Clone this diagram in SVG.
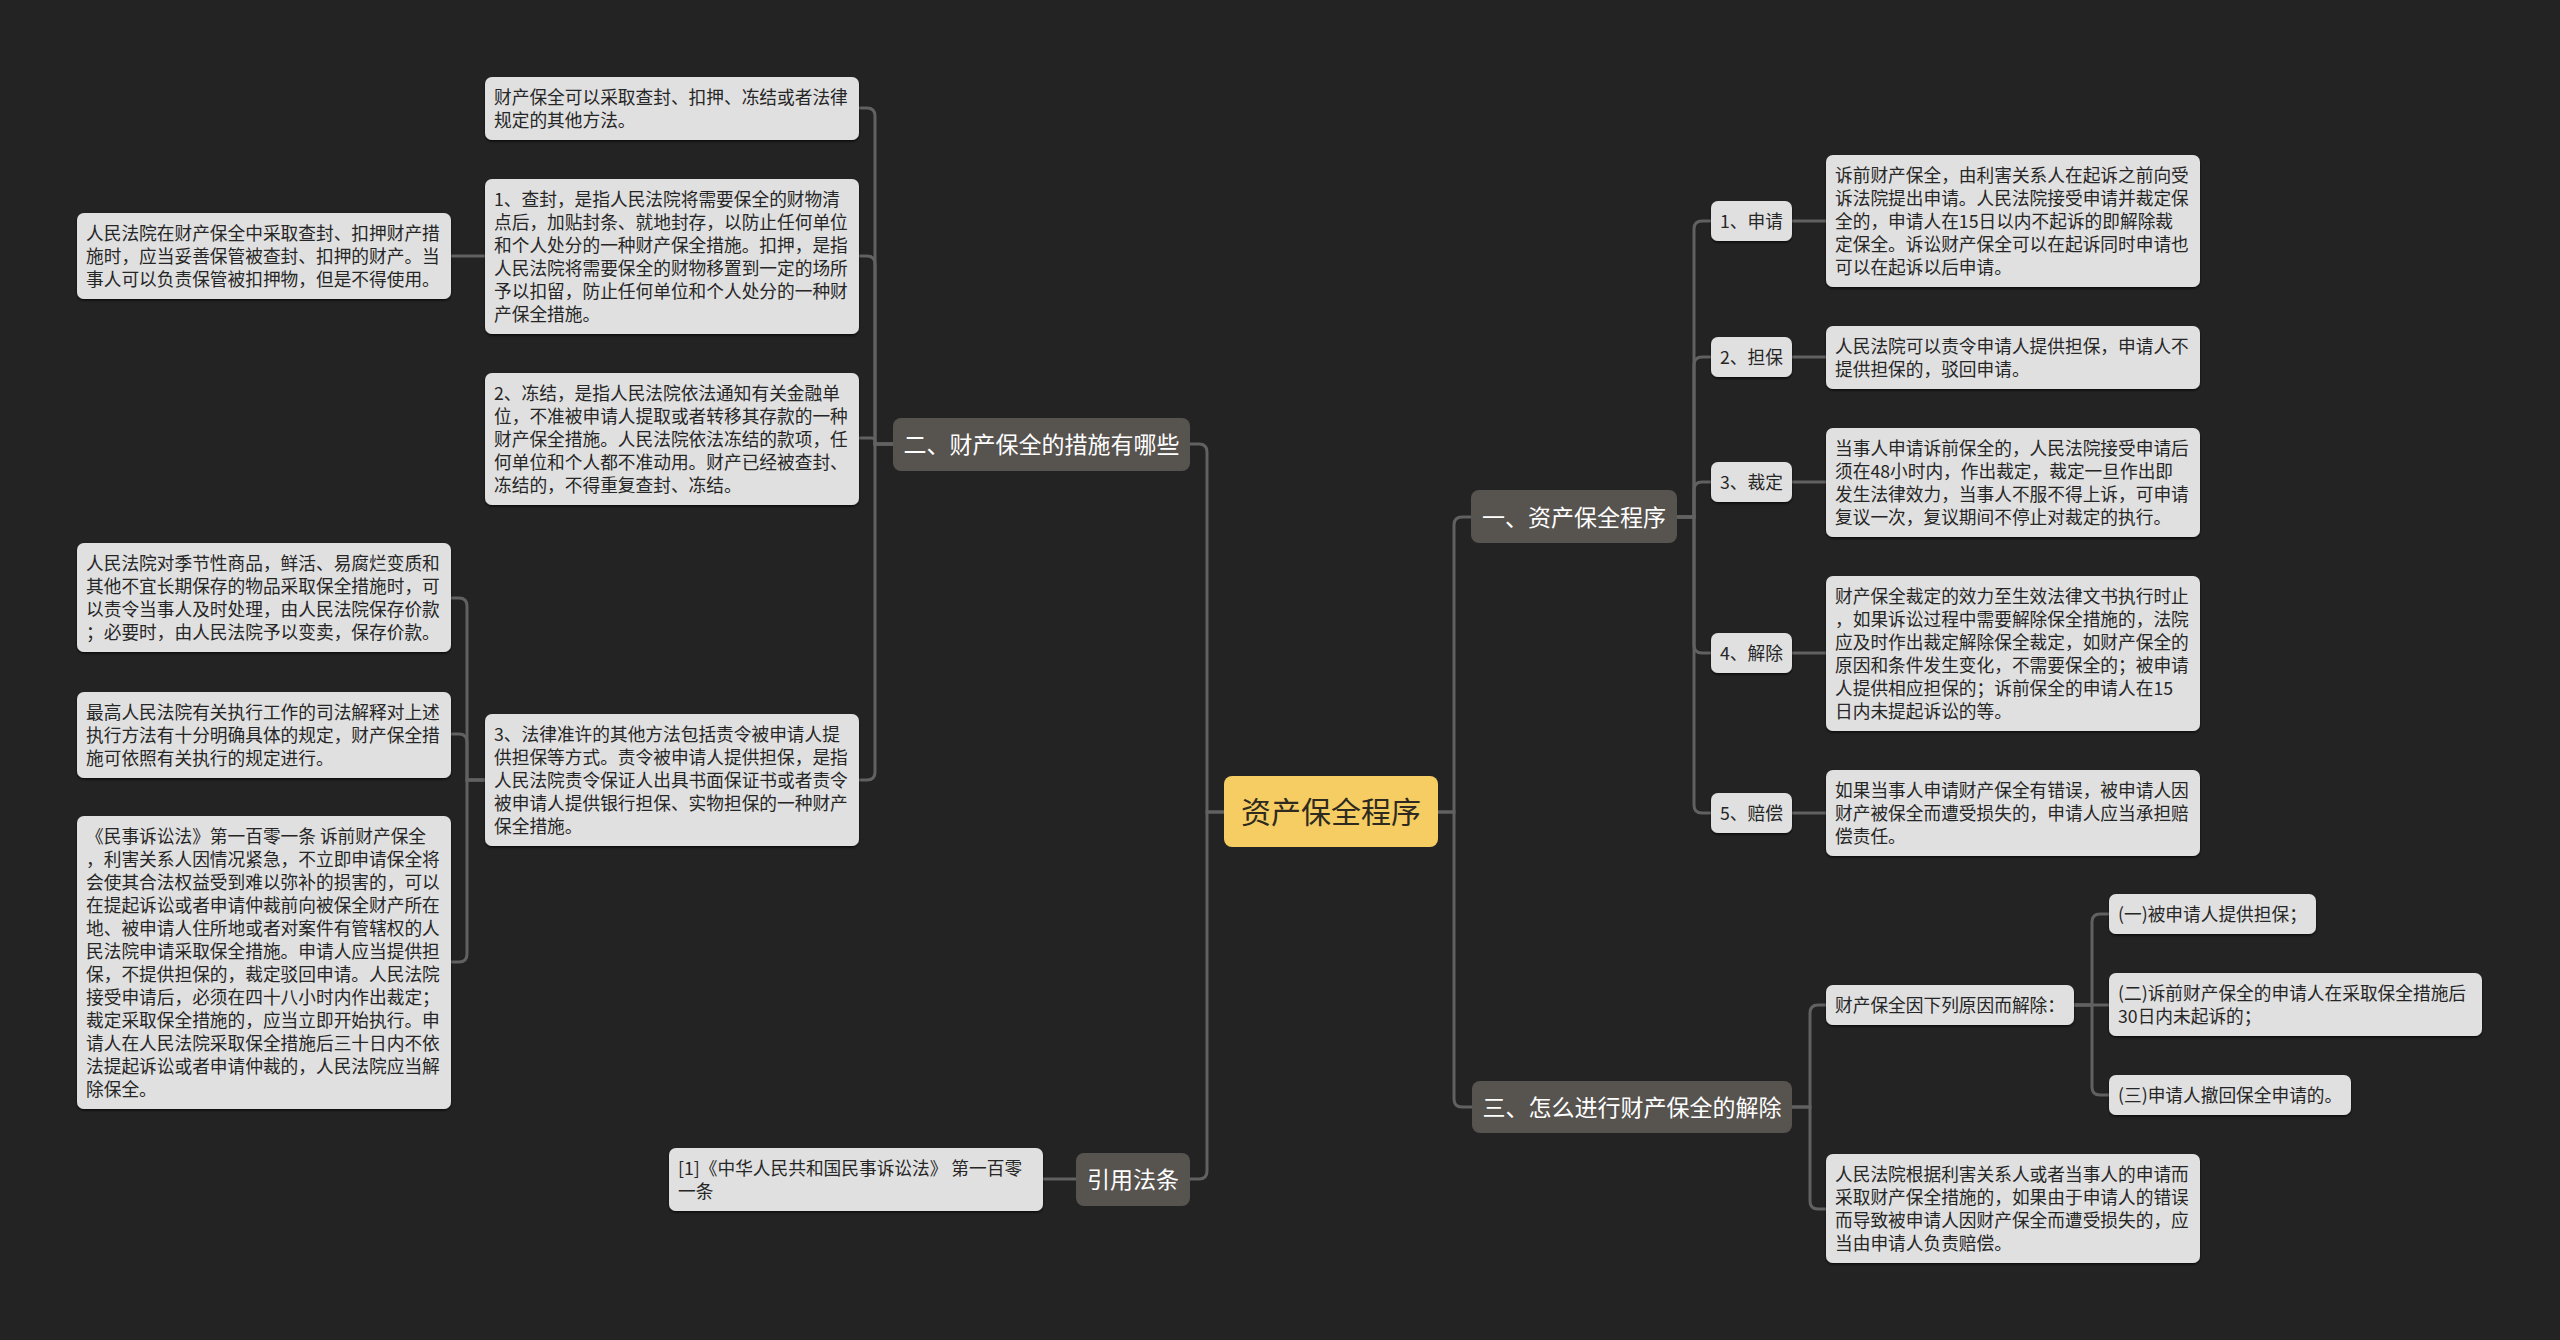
<svg xmlns="http://www.w3.org/2000/svg" width="2560" height="1340" viewBox="0 0 2560 1340">
<defs>
<style>
.bg{fill:#232323}
.c{fill:none;stroke:#616161;stroke-width:3}
.leaf{fill:#e0e0e0;filter:url(#sh)}
.br{fill:#57534f}
.root{fill:#f5cd62}
.t{font-family:"Noto Sans CJK SC","Liberation Sans",sans-serif;font-size:17.7px;fill:#262626}
.tb{font-family:"Noto Sans CJK SC","Liberation Sans",sans-serif;font-size:23px;fill:#ffffff;text-anchor:middle}
.tr{font-family:"Noto Sans CJK SC","Liberation Sans",sans-serif;font-size:30px;fill:#2e2a20;text-anchor:middle}
.m{text-anchor:middle}
</style>
<filter id="sh" x="-5%" y="-10%" width="110%" height="130%">
<feDropShadow dx="0" dy="1.5" stdDeviation="1" flood-color="#000" flood-opacity="0.7"/>
</filter>
</defs>
<rect class="bg" x="0" y="0" width="2560" height="1340"/>
<g id="connectors">
<path class="c" d="M1224 812H1207V452Q1207 444 1199 444H1190"/>
<path class="c" d="M1224 812H1207V1171Q1207 1179 1199 1179H1190"/>
<path class="c" d="M1438 812H1454V525Q1454 517 1462 517H1471"/>
<path class="c" d="M1438 812H1454V1099Q1454 1107 1462 1107H1472"/>
<path class="c" d="M1677 517H1694V229Q1694 221 1702 221H1711"/>
<path class="c" d="M1677 517H1694V365Q1694 357 1702 357H1711"/>
<path class="c" d="M1677 517H1694V490Q1694 482 1702 482H1711"/>
<path class="c" d="M1677 517H1694V645Q1694 653 1702 653H1711"/>
<path class="c" d="M1677 517H1694V805Q1694 813 1702 813H1711"/>
<path class="c" d="M1792 221H1826"/>
<path class="c" d="M1792 357H1826"/>
<path class="c" d="M1792 482H1826"/>
<path class="c" d="M1792 653H1826"/>
<path class="c" d="M1792 813H1826"/>
<path class="c" d="M1792 1107H1810V1013Q1810 1005 1818 1005H1826"/>
<path class="c" d="M1792 1107H1810V1201Q1810 1209 1818 1209H1826"/>
<path class="c" d="M2074 1005H2092V922Q2092 914 2100 914H2109"/>
<path class="c" d="M2074 1005H2109"/>
<path class="c" d="M2074 1005H2092V1087Q2092 1095 2100 1095H2109"/>
<path class="c" d="M893 444H875V116Q875 108 867 108H859"/>
<path class="c" d="M893 444H875V264Q875 256 867 256H859"/>
<path class="c" d="M893 444H875V441Q875 438 872 438H859"/>
<path class="c" d="M893 444H875V772Q875 780 867 780H859"/>
<path class="c" d="M485 780H467V606Q467 598 459 598H451"/>
<path class="c" d="M485 780H467V742Q467 734 459 734H451"/>
<path class="c" d="M485 780H467V954Q467 962 459 962H451"/>
<path class="c" d="M485 256H451"/>
<path class="c" d="M1076 1179H1043"/>
</g>
<g id="root">
<rect class="root" x="1224" y="776" width="214" height="71" rx="8"/>
<text class="tr" x="1331" y="823">资产保全程序</text>
</g>
<g id="b2">
<rect class="br" x="893" y="418" width="297" height="53" rx="8"/>
<text class="tb" x="1041.5" y="452.5">二、财产保全的措施有哪些</text>
</g>
<g id="b1">
<rect class="br" x="1471" y="490" width="206" height="53" rx="8"/>
<text class="tb" x="1574" y="525.5">一、资产保全程序</text>
</g>
<g id="b3">
<rect class="br" x="1472" y="1081" width="320" height="52" rx="8"/>
<text class="tb" x="1632" y="1115.5">三、怎么进行财产保全的解除</text>
</g>
<g id="b4">
<rect class="br" x="1076" y="1153" width="114" height="53" rx="8"/>
<text class="tb" x="1133" y="1187.5">引用法条</text>
</g>
<g id="cite">
<rect class="leaf" x="669" y="1148" width="374" height="63" rx="7"/>
<text class="t" x="678"><tspan x="678" y="1175">[1]《中华人民共和国民事诉讼法》 第一百零</tspan><tspan x="678" y="1198">一条</tspan></text>
</g>
<g id="a">
<rect class="leaf" x="485" y="77" width="374" height="63" rx="7"/>
<text class="t"><tspan x="494" y="104">财产保全可以采取查封、扣押、冻结或者法律</tspan><tspan x="494" y="127">规定的其他方法。</tspan></text>
</g>
<g id="b">
<rect class="leaf" x="485" y="179" width="374" height="155" rx="7"/>
<text class="t"><tspan x="494" y="206">1、查封，是指人民法院将需要保全的财物清</tspan><tspan x="494" y="229">点后，加贴封条、就地封存，以防止任何单位</tspan><tspan x="494" y="252">和个人处分的一种财产保全措施。扣押，是指</tspan><tspan x="494" y="275">人民法院将需要保全的财物移置到一定的场所</tspan><tspan x="494" y="298">予以扣留，防止任何单位和个人处分的一种财</tspan><tspan x="494" y="321">产保全措施。</tspan></text>
</g>
<g id="cnode">
<rect class="leaf" x="485" y="373" width="374" height="132" rx="7"/>
<text class="t"><tspan x="494" y="400">2、冻结，是指人民法院依法通知有关金融单</tspan><tspan x="494" y="423">位，不准被申请人提取或者转移其存款的一种</tspan><tspan x="494" y="446">财产保全措施。人民法院依法冻结的款项，任</tspan><tspan x="494" y="469">何单位和个人都不准动用。财产已经被查封、</tspan><tspan x="494" y="492">冻结的，不得重复查封、冻结。</tspan></text>
</g>
<g id="d">
<rect class="leaf" x="485" y="714" width="374" height="132" rx="7"/>
<text class="t"><tspan x="494" y="741">3、法律准许的其他方法包括责令被申请人提</tspan><tspan x="494" y="764">供担保等方式。责令被申请人提供担保，是指</tspan><tspan x="494" y="787">人民法院责令保证人出具书面保证书或者责令</tspan><tspan x="494" y="810">被申请人提供银行担保、实物担保的一种财产</tspan><tspan x="494" y="833">保全措施。</tspan></text>
</g>
<g id="l1">
<rect class="leaf" x="77" y="213" width="374" height="86" rx="7"/>
<text class="t"><tspan x="86" y="240">人民法院在财产保全中采取查封、扣押财产措</tspan><tspan x="86" y="263">施时，应当妥善保管被查封、扣押的财产。当</tspan><tspan x="86" y="286">事人可以负责保管被扣押物，但是不得使用。</tspan></text>
</g>
<g id="l2">
<rect class="leaf" x="77" y="543" width="374" height="109" rx="7"/>
<text class="t"><tspan x="86" y="570">人民法院对季节性商品，鲜活、易腐烂变质和</tspan><tspan x="86" y="593">其他不宜长期保存的物品采取保全措施时，可</tspan><tspan x="86" y="616">以责令当事人及时处理，由人民法院保存价款</tspan><tspan x="86" y="639">；必要时，由人民法院予以变卖，保存价款。</tspan></text>
</g>
<g id="l3">
<rect class="leaf" x="77" y="692" width="374" height="86" rx="7"/>
<text class="t"><tspan x="86" y="719">最高人民法院有关执行工作的司法解释对上述</tspan><tspan x="86" y="742">执行方法有十分明确具体的规定，财产保全措</tspan><tspan x="86" y="765">施可依照有关执行的规定进行。</tspan></text>
</g>
<g id="l4">
<rect class="leaf" x="77" y="816" width="374" height="293" rx="7"/>
<text class="t"><tspan x="86" y="843">《民事诉讼法》第一百零一条 诉前财产保全</tspan><tspan x="86" y="866">，利害关系人因情况紧急，不立即申请保全将</tspan><tspan x="86" y="889">会使其合法权益受到难以弥补的损害的，可以</tspan><tspan x="86" y="912">在提起诉讼或者申请仲裁前向被保全财产所在</tspan><tspan x="86" y="935">地、被申请人住所地或者对案件有管辖权的人</tspan><tspan x="86" y="958">民法院申请采取保全措施。申请人应当提供担</tspan><tspan x="86" y="981">保，不提供担保的，裁定驳回申请。人民法院</tspan><tspan x="86" y="1004">接受申请后，必须在四十八小时内作出裁定；</tspan><tspan x="86" y="1027">裁定采取保全措施的，应当立即开始执行。申</tspan><tspan x="86" y="1050">请人在人民法院采取保全措施后三十日内不依</tspan><tspan x="86" y="1073">法提起诉讼或者申请仲裁的，人民法院应当解</tspan><tspan x="86" y="1096">除保全。</tspan></text>
</g>
<g id="n1">
<rect class="leaf" x="1711" y="201" width="81" height="40" rx="7"/>
<text class="t m" x="1751.5" y="227.5">1、申请</text>
</g>
<g id="n2">
<rect class="leaf" x="1711" y="337" width="81" height="40" rx="7"/>
<text class="t m" x="1751.5" y="363.5">2、担保</text>
</g>
<g id="n3">
<rect class="leaf" x="1711" y="462" width="81" height="40" rx="7"/>
<text class="t m" x="1751.5" y="488.5">3、裁定</text>
</g>
<g id="n4">
<rect class="leaf" x="1711" y="633" width="81" height="40" rx="7"/>
<text class="t m" x="1751.5" y="659.5">4、解除</text>
</g>
<g id="n5">
<rect class="leaf" x="1711" y="793" width="81" height="40" rx="7"/>
<text class="t m" x="1751.5" y="819.5">5、赔偿</text>
</g>
<g id="r1">
<rect class="leaf" x="1826" y="155" width="374" height="132" rx="7"/>
<text class="t"><tspan x="1835" y="182">诉前财产保全，由利害关系人在起诉之前向受</tspan><tspan x="1835" y="205">诉法院提出申请。人民法院接受申请并裁定保</tspan><tspan x="1835" y="228">全的，申请人在15日以内不起诉的即解除裁</tspan><tspan x="1835" y="251">定保全。诉讼财产保全可以在起诉同时申请也</tspan><tspan x="1835" y="274">可以在起诉以后申请。</tspan></text>
</g>
<g id="r2">
<rect class="leaf" x="1826" y="326" width="374" height="63" rx="7"/>
<text class="t"><tspan x="1835" y="353">人民法院可以责令申请人提供担保，申请人不</tspan><tspan x="1835" y="376">提供担保的，驳回申请。</tspan></text>
</g>
<g id="r3">
<rect class="leaf" x="1826" y="428" width="374" height="109" rx="7"/>
<text class="t"><tspan x="1835" y="455">当事人申请诉前保全的，人民法院接受申请后</tspan><tspan x="1835" y="478">须在48小时内，作出裁定，裁定一旦作出即</tspan><tspan x="1835" y="501">发生法律效力，当事人不服不得上诉，可申请</tspan><tspan x="1835" y="524">复议一次，复议期间不停止对裁定的执行。</tspan></text>
</g>
<g id="r4">
<rect class="leaf" x="1826" y="576" width="374" height="155" rx="7"/>
<text class="t"><tspan x="1835" y="603">财产保全裁定的效力至生效法律文书执行时止</tspan><tspan x="1835" y="626">，如果诉讼过程中需要解除保全措施的，法院</tspan><tspan x="1835" y="649">应及时作出裁定解除保全裁定，如财产保全的</tspan><tspan x="1835" y="672">原因和条件发生变化，不需要保全的；被申请</tspan><tspan x="1835" y="695">人提供相应担保的；诉前保全的申请人在15</tspan><tspan x="1835" y="718">日内未提起诉讼的等。</tspan></text>
</g>
<g id="r5">
<rect class="leaf" x="1826" y="770" width="374" height="86" rx="7"/>
<text class="t"><tspan x="1835" y="797">如果当事人申请财产保全有错误，被申请人因</tspan><tspan x="1835" y="820">财产被保全而遭受损失的，申请人应当承担赔</tspan><tspan x="1835" y="843">偿责任。</tspan></text>
</g>
<g id="s0">
<rect class="leaf" x="1826" y="985" width="248" height="40" rx="7"/>
<text class="t" x="1835" y="1011.5">财产保全因下列原因而解除：</text>
</g>
<g id="s1">
<rect class="leaf" x="2109" y="894" width="207" height="40" rx="7"/>
<text class="t" x="2118" y="920.5">(一)被申请人提供担保；</text>
</g>
<g id="s2">
<rect class="leaf" x="2109" y="973" width="373" height="63" rx="7"/>
<text class="t"><tspan x="2118" y="1000">(二)诉前财产保全的申请人在采取保全措施后</tspan><tspan x="2118" y="1023">30日内未起诉的；</tspan></text>
</g>
<g id="s3">
<rect class="leaf" x="2109" y="1075" width="242" height="40" rx="7"/>
<text class="t" x="2118" y="1101.5">(三)申请人撤回保全申请的。</text>
</g>
<g id="r6">
<rect class="leaf" x="1826" y="1154" width="374" height="109" rx="7"/>
<text class="t"><tspan x="1835" y="1181">人民法院根据利害关系人或者当事人的申请而</tspan><tspan x="1835" y="1204">采取财产保全措施的，如果由于申请人的错误</tspan><tspan x="1835" y="1227">而导致被申请人因财产保全而遭受损失的，应</tspan><tspan x="1835" y="1250">当由申请人负责赔偿。</tspan></text>
</g>
</svg>
